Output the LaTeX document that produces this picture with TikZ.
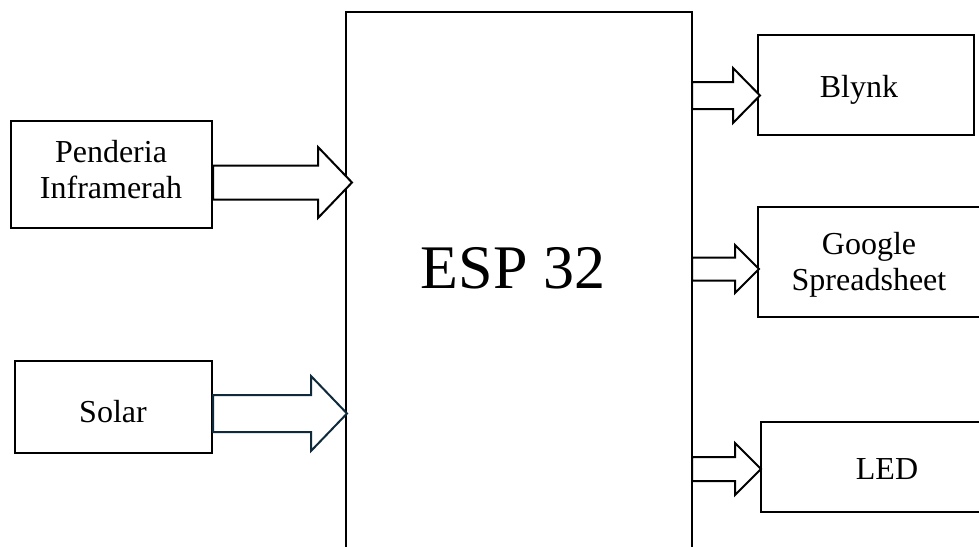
\documentclass[tikz,border=0pt]{standalone}
\usepackage{fontspec}
\setmainfont{Liberation Serif}
\begin{document}
\begin{tikzpicture}[x=1pt,y=-1pt,
  box/.style={draw=black, line width=1.2pt, rectangle, inner sep=0pt},
  lbl/.style={inner sep=0pt, align=center, font=\fontsize{32}{36}\selectfont},
  bigbox/.style={draw=black, line width=2.4pt, rectangle, inner sep=0pt},
  barrow/.style={draw=black, line width=2pt, fill=white, line join=miter}]
\useasboundingbox (0,0) rectangle (979,546);
\clip (0,0) rectangle (979,546);
\fill[white] (0,0) rectangle (979,546);
% ESP box (extends below the page)
\node[bigbox, minimum width=346pt, minimum height=560pt] (esp) at (519,292) {};
\node[font=\fontsize{62}{70}\selectfont] (esptext) at (513,268) {ESP 32};
% left boxes
\node[box, minimum width=201pt, minimum height=107pt] (pend) at (111.5,174.5) {};
\node[lbl] (pendtext) at (111,170) {Penderia\\Inframerah};
\node[box, minimum width=197pt, minimum height=92pt] (solar) at (113.5,407) {};
\node[lbl] (solartext) at (113,412) {Solar};
% right boxes
\node[box, minimum width=216pt, minimum height=100pt] (blynk) at (866,85) {};
\node[lbl] (blynktext) at (859,90) {Blynk};
\node[box, minimum width=222pt, minimum height=110pt] (google) at (869,262) {};
\node[lbl] (googletext) at (869,265) {Google\\Spreadsheet};
\node[box, minimum width=252pt, minimum height=90pt] (led) at (887,467) {};
\node[lbl] (ledtext) at (887,469) {LED};
% block arrows: #2 start x, #3 shaft end x, #4 tip x, #5 centre y, #6 shaft half, #7 head half
\newcommand\blockarr[7][]{%
  \draw[barrow,#1] (#2,#5-#6) -- (#3,#5-#6) -- (#3,#5-#7) -- (#4,#5) -- (#3,#5+#7)
    -- (#3,#5+#6) -- (#2,#5+#6) -- cycle;}
\definecolor{navy}{HTML}{0E2A3B}
\blockarr{213}{318}{352}{182.5}{17}{35.5}
\blockarr[draw=navy]{213}{311}{347}{413.5}{18.5}{37.5}
\blockarr{692}{733}{760}{95.5}{13.5}{27.5}
\blockarr{692}{735}{759}{269}{11.5}{24}
\blockarr{692}{735}{761}{469}{12}{26}
\end{tikzpicture}
\end{document}
